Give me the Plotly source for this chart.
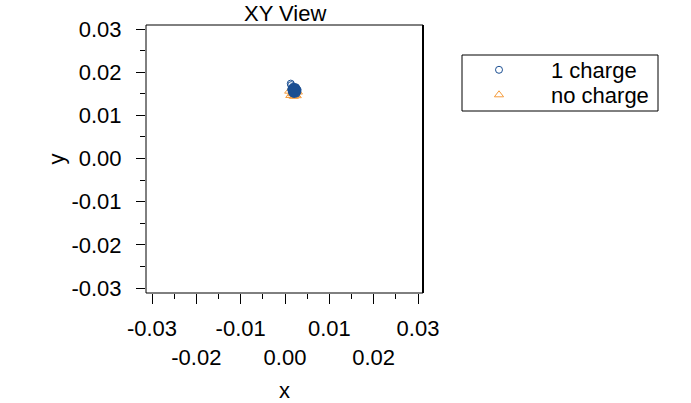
import plotly.graph_objects as go

# Particle positions (x, y) for the two charge states
charged_x = [0.00203, 0.00224, 0.00182, 0.00248, 0.00160, 0.00215, 0.00190, 0.00262, 0.00170, 0.00236,
             0.00208, 0.00150, 0.00266, 0.00196, 0.00176, 0.00242, 0.00220, 0.00186, 0.00254, 0.00156,
             0.00206, 0.00230, 0.00172, 0.00258, 0.00200, 0.00226, 0.00184, 0.00246, 0.00164, 0.00212,
             0.00194, 0.00252, 0.00146, 0.00232, 0.00204, 0.00178, 0.00244, 0.00218, 0.00188, 0.00260,
             0.00168, 0.00234, 0.00202, 0.00152, 0.00250, 0.00214, 0.00186, 0.00270, 0.00174, 0.00222,
             0.00130, 0.00140, 0.00285, 0.00280, 0.00140, 0.00205, 0.00255]
charged_y = [0.01577, 0.01608, 0.01546, 0.01591, 0.01620, 0.01530, 0.01630, 0.01560, 0.01582, 0.01640,
             0.01515, 0.01568, 0.01602, 0.01550, 0.01645, 0.01524, 0.01622, 0.01595, 0.01628, 0.01540,
             0.01658, 0.01552, 0.01510, 0.01612, 0.01600, 0.01535, 0.01573, 0.01650, 0.01615, 0.01505,
             0.01618, 0.01543, 0.01590, 0.01635, 0.01565, 0.01660, 0.01562, 0.01585, 0.01520, 0.01616,
             0.01555, 0.01605, 0.01626, 0.01610, 0.01528, 0.01638, 0.01580, 0.01572, 0.01538, 0.01556,
             0.01735, 0.01700, 0.01590, 0.01545, 0.01600, 0.01495, 0.01505]

neutral_x = [0.00095, 0.00120, 0.00200, 0.00265, 0.00290, 0.00160, 0.00230, 0.00180, 0.00210]
neutral_y = [0.01560, 0.01460, 0.01440, 0.01455, 0.01540, 0.01500, 0.01480, 0.01580, 0.01610]

# Axis ticks
tick_vals = [-0.03, -0.02, -0.01, 0.00, 0.01, 0.02, 0.03]
y_tick_text = ["-0.03", "-0.02", "-0.01", "0.00", "0.01", "0.02", "0.03"]
# x labels alternate between two rows
x_tick_text = ["-0.03", "<br>-0.02", "-0.01", "<br>0.00", "0.01", "<br>0.02", "0.03"]

FONT = "Liberation Sans, Arial, sans-serif"
FS = 22
BLUE = "#1a4e92"
ORANGE = "#f59c3c"

fig = go.Figure()
fig.add_trace(go.Scatter(
    x=neutral_x, y=neutral_y, mode="markers", name="no charge", legend="legend2",
    marker=dict(symbol="triangle-up-open", size=8, color=ORANGE, line=dict(width=1)),
))
fig.add_trace(go.Scatter(
    x=charged_x, y=charged_y, mode="markers", name="1 charge", legend="legend",
    marker=dict(symbol="circle-open", size=7, color=BLUE, line=dict(width=1)),
))

W, H = 691, 403
L, R, T, B = 146, 423, 25, 293
xs = 4433.0  # px per unit (x)
ys = 4317.0  # px per unit (y)


def px_x(p):
    return (p - L) / (R - L)


def px_y(p):
    return 1 - (p - T) / (B - T)


legend_style = dict(xanchor="left", yanchor="middle", bgcolor="rgba(0,0,0,0)", borderwidth=0,
                    itemwidth=94, font=dict(family=FONT, size=FS, color="black"))

fig.update_layout(
    width=W, height=H,
    margin=dict(l=L, r=W - R, t=T, b=H - B, pad=0, autoexpand=False),
    paper_bgcolor="white", plot_bgcolor="white",
    font=dict(family=FONT, size=FS, color="black"),
    showlegend=True,
    legend=dict(x=px_x(447), y=px_y(70), **legend_style),
    legend2=dict(x=px_x(447), y=px_y(95), **legend_style),
    annotations=[
        dict(text="XY View", xref="paper", yref="paper", x=0.5, y=px_y(13),
             xanchor="center", yanchor="middle", showarrow=False,
             font=dict(family=FONT, size=FS, color="black")),
    ],
    xaxis=dict(
        range=[-0.03 - 6 / xs, 0.03 + 5 / xs], showgrid=False, zeroline=False, showline=False,
        automargin=False,
        tickmode="array", tickvals=tick_vals, ticktext=x_tick_text, tickangle=0,
        ticks="outside", ticklen=10, tickwidth=1, tickcolor="black", ticklabelstandoff=6,
        minor=dict(dtick=0.005, tick0=0, ticks="outside", ticklen=5, tickwidth=1, tickcolor="black", showgrid=False),
        title=dict(text="x", standoff=13, font=dict(family=FONT, size=FS)),
    ),
    yaxis=dict(
        range=[-0.03 - 5 / ys, 0.03 + 4 / ys], showgrid=False, zeroline=False, showline=False,
        automargin=False,
        tickmode="array", tickvals=tick_vals, ticktext=y_tick_text,
        ticks="outside", ticklen=9, tickwidth=1, tickcolor="black", ticklabelstandoff=10,
        minor=dict(dtick=0.005, tick0=0, ticks="outside", ticklen=5, tickwidth=1, tickcolor="black", showgrid=False),
        title=dict(text="y", standoff=0, font=dict(family=FONT, size=FS)),
    ),
    shapes=[
        dict(type="rect", xref="x domain", yref="y domain", x0=0, x1=1, y0=0, y1=1,
             line=dict(color="black", width=1), layer="above"),
        dict(type="line", xref="x domain", yref="y domain", x0=1, x1=1, y0=0, y1=1,
             line=dict(color="black", width=2), layer="above"),
        # legend frame
        dict(type="rect", xref="paper", yref="paper",
             x0=px_x(462), x1=px_x(658), y0=px_y(111), y1=px_y(55),
             line=dict(color="black", width=1), layer="below"),
    ],
)

fig.write_html("out.html")
